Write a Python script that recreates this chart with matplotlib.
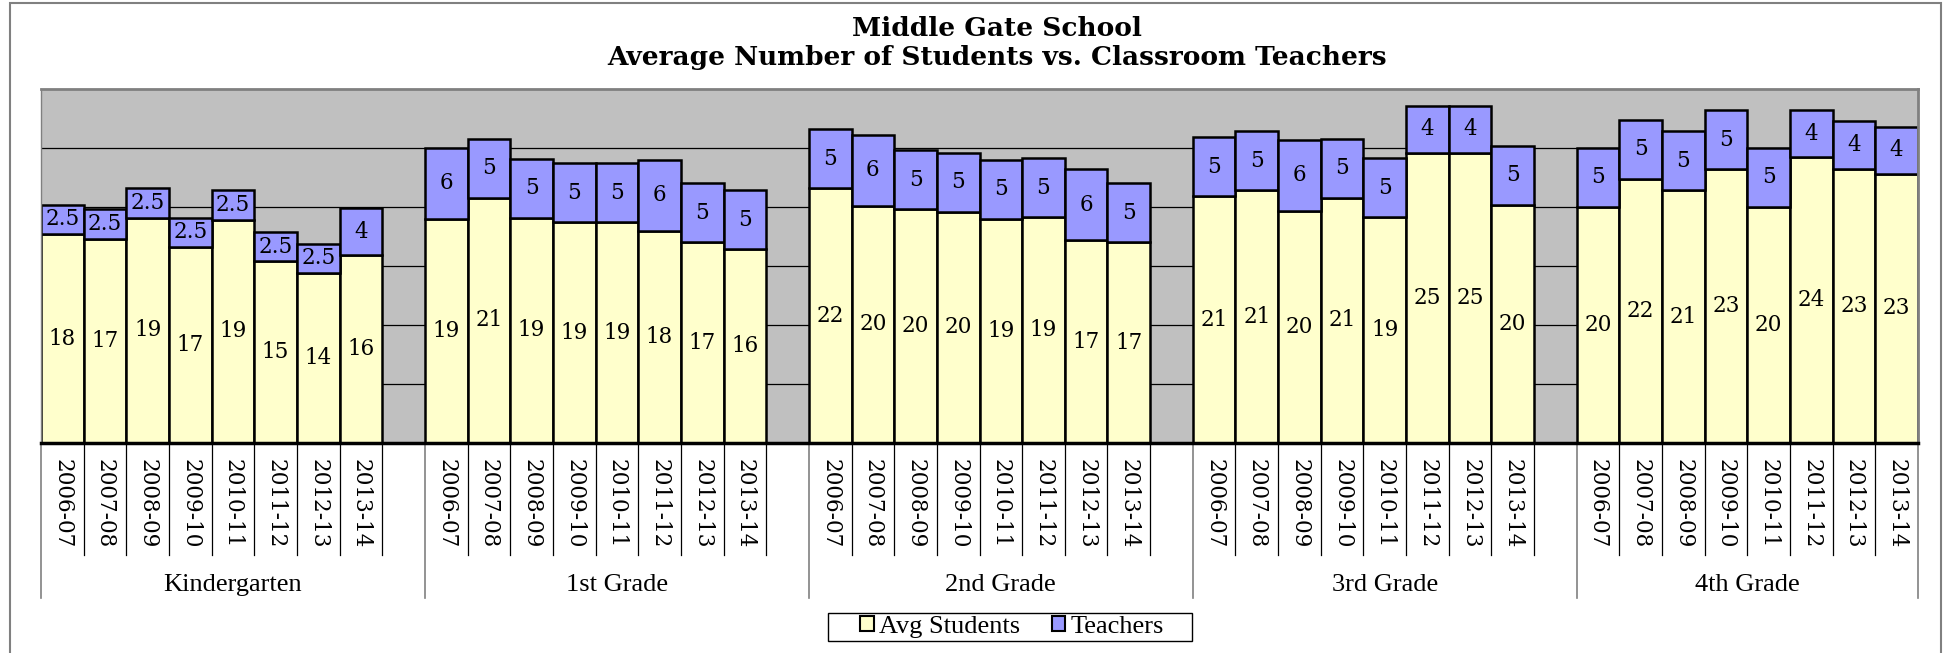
import matplotlib
matplotlib.use('Agg')
import matplotlib.pyplot as plt
from matplotlib.patches import Patch, Rectangle

plt.rcParams['font.family'] = ['Liberation Serif', 'DejaVu Serif']

# data
grades = ['Kindergarten', '1st Grade', '2nd Grade', '3rd Grade', '4th Grade']
years = ['2006-07', '2007-08', '2008-09', '2009-10', '2010-11', '2011-12', '2012-13', '2013-14']

students_k = [17.7, 17.3, 19.1, 16.6, 18.9, 15.4, 14.4, 15.9]
students_1 = [19.0, 20.8, 19.1, 18.7, 18.7, 18.0, 17.0, 16.4]
students_2 = [21.6, 20.1, 19.8, 19.6, 19.0, 19.15, 17.2, 17.0]
students_3 = [20.9, 21.4, 19.7, 20.8, 19.15, 24.6, 24.6, 20.2]
students_4 = [20.0, 22.4, 21.4, 23.2, 20.0, 24.2, 23.25, 22.8]

teachers_k = [2.5, 2.5, 2.5, 2.5, 2.5, 2.5, 2.5, 4]
teachers_1 = [6, 5, 5, 5, 5, 6, 5, 5]
teachers_2 = [5, 6, 5, 5, 5, 5, 6, 5]
teachers_3 = [5, 5, 6, 5, 5, 4, 4, 5]
teachers_4 = [5, 5, 5, 5, 5, 4, 4, 4]

students = [students_k, students_1, students_2, students_3, students_4]
teachers = [teachers_k, teachers_1, teachers_2, teachers_3, teachers_4]

yellow = '#FFFFCC'
blue = '#9999FF'

W, H = 1948, 653
fig = plt.figure(figsize=(W / 100, H / 100), dpi=100)
ax = fig.add_axes([41 / W, 1 - 443 / H, (1918 - 41) / W, (443 - 89) / H])
ax.set_facecolor('#C0C0C0')

# one empty slot between grade groups
slot = len(years) + 1
n_slots = slot * len(grades) - 1

for g in range(len(grades)):
    xs = [g * slot + j + 0.5 for j in range(len(years))]
    ax.bar(xs, students[g], width=1, color=yellow, edgecolor='black', linewidth=1.8, zorder=2)
    ax.bar(xs, teachers[g], width=1, bottom=students[g], color=blue,
           edgecolor='black', linewidth=1.8, zorder=2)
    for j, (x, s, t) in enumerate(zip(xs, students[g], teachers[g])):
        ax.text(x, s / 2, f'{s:.0f}', ha='center', va='center', fontsize=15.5,
                family='DejaVu Serif', zorder=3)
        ax.text(x, s + t / 2, f'{t:g}', ha='center', va='center', fontsize=15.5,
                family='DejaVu Serif', zorder=3)
        # year labels under the axis
        ax.text(x, -0.045, years[j], rotation=270, ha='center', va='top',
                fontsize=15.5, family='DejaVu Serif', transform=ax.get_xaxis_transform())
    # grade name
    span = len(years) if g == len(grades) - 1 else slot
    ax.text(g * slot + span / 2, -0.40, grades[g], ha='center', va='center', fontsize=19,
            transform=ax.get_xaxis_transform())

ax.set_xlim(0, n_slots)
ax.set_ylim(0, 30)
ax.set_yticks([5, 10, 15, 20, 25])
ax.yaxis.grid(True, color='black', linewidth=0.9)
ax.set_axisbelow(True)
ax.tick_params(left=False, labelleft=False, bottom=False, labelbottom=False)

for side in ['top', 'right', 'left']:
    ax.spines[side].set_color('#808080')
    ax.spines[side].set_linewidth(2)
ax.spines['left'].set_linewidth(1)
ax.spines['bottom'].set_color('black')
ax.spines['bottom'].set_linewidth(2.5)

# separator lines below the axis
group_edges = [g * slot for g in range(len(grades))] + [n_slots]
for k in range(n_slots + 1):
    if k in group_edges:
        ax.plot([k, k], [0, -0.438], color='#808080', linewidth=1.2,
                transform=ax.get_xaxis_transform(), clip_on=False)
    else:
        ax.plot([k, k], [0, -0.316], color='black', linewidth=0.9,
                transform=ax.get_xaxis_transform(), clip_on=False)

# title
fig.text(997 / W, 1 - 43 / H, 'Middle Gate School\nAverage Number of Students vs. Classroom Teachers',
         ha='center', va='center', fontsize=19, fontweight='bold', family='DejaVu Serif',
         linespacing=1.2)

# legend (frame drawn separately so it can be wider than the entries)
handles = [Patch(facecolor=yellow, edgecolor='black', linewidth=1.5, label='Avg Students'),
           Patch(facecolor=blue, edgecolor='black', linewidth=1.5, label='Teachers')]
fig.legend(handles=handles, loc='center', bbox_to_anchor=(1012 / W, 1 - 627 / H), ncol=2,
           fontsize=19, frameon=False, handlelength=0.5, handleheight=0.5,
           handletextpad=0.2, columnspacing=1.2, borderpad=0, borderaxespad=0)
fig.patches.append(Rectangle((828 / W, 1 - 641 / H), (1192 - 828) / W, (641 - 613) / H,
                             transform=fig.transFigure, fill=False,
                             edgecolor='black', linewidth=1))

# outer border
fig.patches.append(Rectangle((10 / W, -0.01), (1941 - 10) / W, 1 - 3 / H + 0.01,
                             transform=fig.transFigure, fill=False,
                             edgecolor='#808080', linewidth=1.5))

plt.savefig('out.png', dpi=100)
